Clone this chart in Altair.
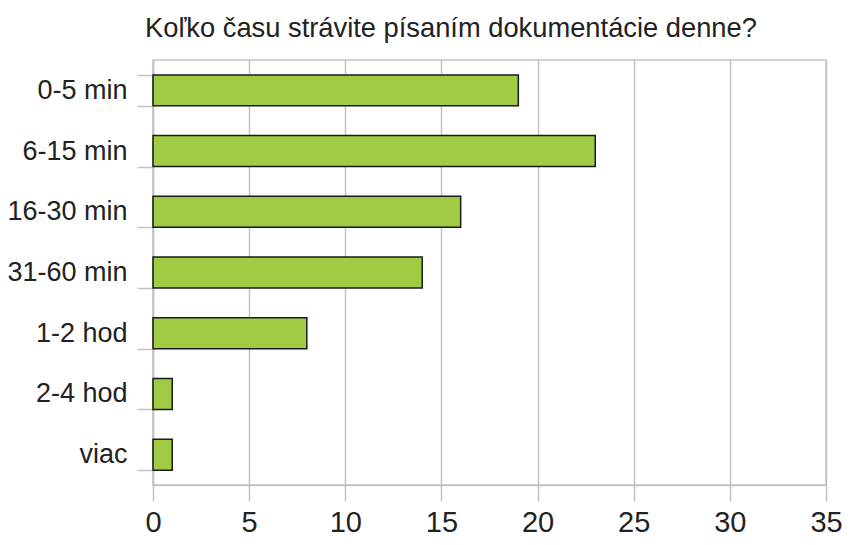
import altair as alt
import pandas as pd

categories = ["0-5 min", "6-15 min", "16-30 min", "31-60 min", "1-2 hod", "2-4 hod", "viac"]
counts = [19, 23, 16, 14, 8, 1, 1]
x_ticks = [0, 5, 10, 15, 20, 25, 30, 35]
title_text = "Koľko času strávite písaním dokumentácie denne?"

df = pd.DataFrame({"cat": categories, "n": counts})

line_color = "#c2c2c2"
font = "Liberation Sans"
text_color = "#222222"

chart = (
    alt.Chart(
        df,
        title=alt.Title(
            title_text, anchor="start", frame="group", dx=-8, offset=4,
            fontSize=27.3, font=font, fontWeight="normal", color=text_color,
        ),
    )
    .mark_bar(color="#9fcc43", stroke="#1a1a1a", strokeWidth=1.5)
    .encode(
        x=alt.X(
            "n:Q",
            scale=alt.Scale(domain=[0, 35], nice=False, zero=True),
            axis=alt.Axis(
                values=x_ticks, title=None, grid=True, gridColor=line_color,
                gridWidth=1.5, domainColor=line_color, domainWidth=1.5,
                tickColor=line_color, tickWidth=1.5, tickSize=16,
                labelFontSize=29, labelPadding=7, labelFont=font,
                labelColor=text_color, labelFlush=False, labelOverlap=False,
            ),
        ),
        y=alt.Y(
            "cat:N",
            sort=categories,
            scale=alt.Scale(paddingInner=0.49, paddingOuter=0.245),
            axis=alt.Axis(
                title=None, tickBand="extent", grid=False,
                domainColor=line_color, domainWidth=1.5,
                tickColor=line_color, tickWidth=1.5, tickSize=16,
                labelFontSize=27, labelPadding=10, labelFont=font,
                labelColor=text_color,
            ),
        ),
    )
    .properties(
        width=673, height=425, autosize="none",
        padding={"left": 145, "top": 52, "right": 17, "bottom": 52},
    )
    .configure_view(stroke=line_color, strokeWidth=1.5)
)

chart.save("out.html", embed_options={"renderer": "svg", "actions": False})
